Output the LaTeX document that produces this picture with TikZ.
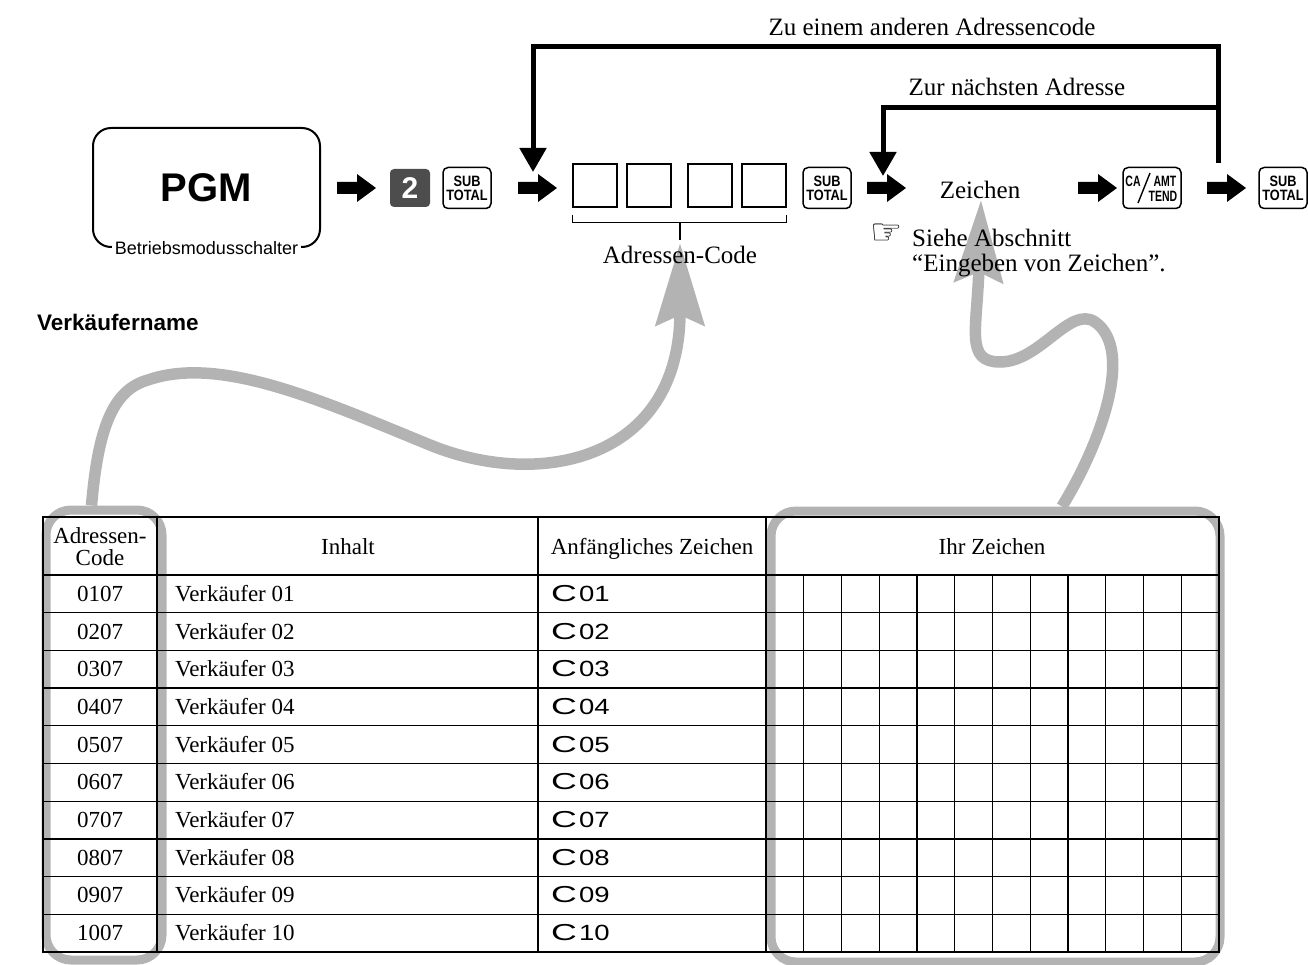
\documentclass[tikz,border=0pt]{standalone}
\usepackage{fontspec}
\usepackage{graphicx}
\setmainfont{Liberation Serif}
\setsansfont{Liberation Sans}
\newfontfamily\keyfont[FakeStretch=0.85]{Liberation Sans}
\newfontfamily\narrowkey[FakeStretch=0.7]{Liberation Sans}
\newfontfamily\lcdfont[FakeStretch=1.25]{Liberation Sans}
\newfontfamily\symfont{DejaVu Sans}
\usetikzlibrary{arrows.meta,calc}
\definecolor{curvegray}{HTML}{B3B3B3}
\definecolor{keygray}{HTML}{4D4D4D}
\tikzset{
  toptext/.style={font=\fontsize{25}{27}\selectfont, inner sep=0pt},
  cell/.style={font=\fontsize{23}{20}\selectfont, inner sep=0pt},
  keybox/.style={draw, line width=1.5pt, rounded corners=5pt, minimum width=48pt, minimum height=41pt, inner sep=0pt, align=center, font=\keyfont\bfseries\fontsize{15}{14}\selectfont},
  keytext/.style={inner sep=0pt, font=\narrowkey\bfseries\fontsize{15}{15}\selectfont},
  digitkey/.style={fill=keygray, rounded corners=4pt, minimum width=40pt, minimum height=38pt, inner sep=0pt, text=white, font=\sffamily\bfseries\fontsize{30}{30}\selectfont},
  entrybox/.style={draw, line width=1.1pt, minimum width=44pt, minimum height=43pt, inner sep=0pt},
  looparrow/.style={line width=5pt, -{Triangle[length=24pt,width=26pt]}},
  grayframe/.style={draw=curvegray, line width=9pt, rounded corners=25pt, inner sep=0pt},
  graycurve/.style={draw=curvegray, line width=11.5pt, -{Stealth[length=82pt,width=48pt,inset=10pt]}},
  blockarrow/.pic={\fill (-19,-6) -- (1,-6) -- (1,-14) -- (20,0) -- (1,14) -- (1,6) -- (-19,6) -- cycle;},
}
\begin{document}
\begin{tikzpicture}[x=1pt,y=-1pt]
\useasboundingbox (0,0) rectangle (1308,965);

% ---------- gray frames and curves (background) ----------
\node[grayframe, minimum width=116pt, minimum height=450pt] (gl) at (104,735) {};
\node[grayframe, minimum width=449pt, minimum height=451pt] (gr) at (995.5,736.5) {};
\coordinate (tipL) at (680,243);
\coordinate (tipR) at (981,200);
\coordinate (startL) at ($(gl.north west)!0.4!(gl.north east)$);
\coordinate (startR) at ($(gr.north west)!0.645!(gr.north east)$);
\draw[graycurve] (startL) .. controls (98,430) and (112,390) .. (148,380)
   .. controls (220,355) and (320,400) .. (430,445)
   .. controls (540,490) and (680,460) .. (tipL);
\draw[graycurve] (startR) .. controls (1100,445) and (1135,350) .. (1095,322)
   .. controls (1070,305) and (1040,362) .. (1000,362)
   .. controls (965,362) and (977,330) .. (tipR);

% ---------- top row ----------
\node[draw, line width=2pt, rounded corners=18pt, minimum width=227pt, minimum height=119pt,
      font=\sffamily\bfseries\fontsize{40}{40}\selectfont] (pgm) at (206.5,187.5) {PGM};
\node[fill=white, inner xsep=3pt, inner ysep=1pt, font=\sffamily\fontsize{18}{18}\selectfont] (bms) at (pgm.south) {Betriebsmodusschalter};

\pic (a1) at (356,188) {blockarrow};
\node[digitkey] (k2) at (410,188) {2};
\node[keybox] (sub1) at (467,188) {SUB\\TOTAL};
\pic (a2) at (537,188) {blockarrow};

\node[entrybox] (b1) at (595,185.5) {};
\node[entrybox] (b2) at (649,185.5) {};
\node[entrybox] (b3) at (710,185.5) {};
\node[entrybox] (b4) at (764,185.5) {};
\coordinate (brmid) at (680,222);
\node[toptext] (aclabel) at (680,255) {Adressen-Code};
\draw[line width=1.3pt] ($(b1.south west)+(0,7)$) -- ($(b1.south west)+(0,15)$) -- ($(b4.south east)+(0,15)$) -- ($(b4.south east)+(0,7)$);
\draw[line width=1.3pt] (brmid) -- (680,240);

\node[keybox] (sub2) at (827,188) {SUB\\TOTAL};
\pic (a3) at (886,188) {blockarrow};
\node[toptext] (zeichen) at (980,190) {Zeichen};
\pic (a4) at (1097,188) {blockarrow};
\node[keybox, minimum width=58pt] (ca) at (1152,188) {};
\node[keytext] (catxt) at ($(ca.center)+(-19,-7)$) {CA};
\node[keytext] (amttxt) at ($(ca.center)+(13,-7)$) {AMT};
\node[keytext] (tendtxt) at ($(ca.center)+(11,8)$) {TEND};
\draw[line width=1.4pt] ($(ca.center)+(-14,15)$) -- ($(ca.center)+(-2,-15)$);
\pic (a5) at (1226,188) {blockarrow};
\node[keybox] (sub3) at (1283,188) {SUB\\TOTAL};

% ---------- loops ----------
\coordinate (loopstart) at (1218,163);
\coordinate (outtip) at (533,172);
\coordinate (intip) at (883,176);
\draw[looparrow] (loopstart) -- (1218,47) -| (outtip);
\draw[looparrow] (1218,108) -| (intip);
\node[toptext] (lbl1) at (932,27) {Zu einem anderen Adressencode};
\node[toptext] (lbl2) at (1017,87) {Zur nächsten Adresse};

% ---------- note ----------
\node[inner sep=0pt, font=\symfont\fontsize{36}{36}\selectfont] (hand) at (887,234) {☞};
\node[toptext, anchor=west] (siehe) at (912,238) {Siehe Abschnitt};
\node[toptext, anchor=west] (eing) at (912,266) {“Eingeben von Zeichen”.};

\node[anchor=west, inner sep=0pt, font=\sffamily\bfseries\fontsize{22.5}{22.5}\selectfont] (title) at (37,322) {Verkäufername};

% ---------- table ----------
\draw[line width=1.3pt] foreach \k in {1,...,9} {(43,{575+37.7*\k}) -- (1219,{575+37.7*\k})};
\draw[line width=1.3pt] foreach \k in {1,...,11} {({766+37.75*\k},575) -- ({766+37.75*\k},952)};
\draw[line width=1.6pt] (157,517) -- (157,952) (538,517) -- (538,952) (766,517) -- (766,952);
\draw[line width=2.2pt] (43,575) -- (1219,575);
\draw[line width=2.6pt] (43,517) rectangle (1219,952);

\node[cell, anchor=base] (h1a) at (100,543) {Adressen-};
\node[cell, anchor=base] (h1b) at (100,565) {Code};
\node[cell, anchor=base] (h2) at (348,554) {Inhalt};
\node[cell, anchor=base] (h3) at (652,554) {Anfängliches Zeichen};
\node[cell, anchor=base] (h4) at (992,554) {Ihr Zeichen};

\foreach \n [count=\i] in {01,02,03,04,05,06,07,08,09,10} {
  \pgfmathsetmacro\yy{575+37.7*(\i-0.5)+7.5}
  \node[cell, anchor=base] (code\i) at (100,\yy) {\n07};
  \node[cell, anchor=base west] (inh\i) at (175,\yy) {Verkäufer \n};
  \node[inner sep=0pt, anchor=base west, font=\lcdfont\fontsize{22}{22}\selectfont] (ini\i) at (551,\yy) {\scalebox{1.3}[1.05]{C}\hspace{2pt}\n};
}
\end{tikzpicture}
\end{document}
